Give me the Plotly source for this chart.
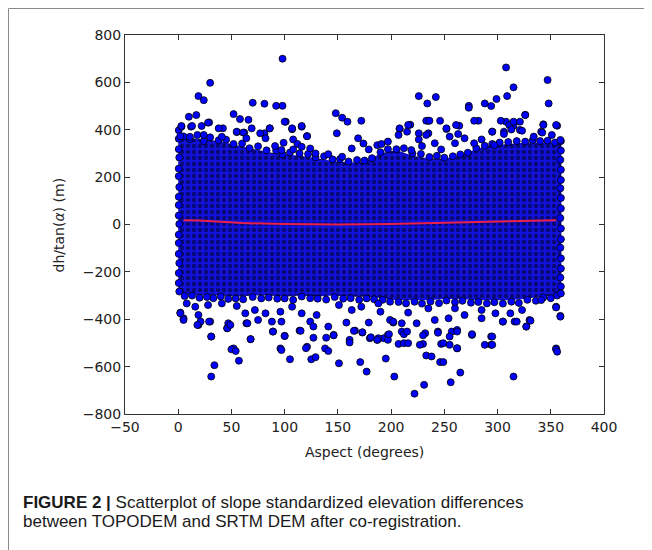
import plotly.graph_objects as go

# ---- Dense core envelope ----
core_aspect = [0, 10, 25, 40, 55, 70, 85, 100, 115, 130, 145, 160, 175, 190, 205,
               220, 235, 250, 265, 280, 295, 310, 325, 340, 352, 360]
core_upper = [360, 365, 360, 350, 335, 320, 305, 295, 290, 280, 268, 262, 265, 300, 315,
              290, 280, 278, 290, 320, 335, 340, 345, 345, 345, 340]
core_lower = [-290, -295, -300, -300, -305, -300, -300, -305, -300, -305, -300, -305, -305, -310, -320,
              -320, -320, -315, -315, -320, -320, -320, -315, -305, -300, -295]

# ---- Individual points: edges of the core and outliers ----
top_aspect = [98, 30, 308, 347, 348, 315, 309, 299, 294, 288, 273, 273, 242, 234, 226,
              19, 24, 70, 81, 92, 98, 10, 17, 52, 58, 66, 29, 101, 148, 154, 159, 172, 149,
              282, 326, 321, 308, 315, 235, 246, 218, 264, 343, 356, 107, 116, 42, 3, 12,
              208, 252, 341, 306, 295, 55, 62, 86, 81, 121, 321, 226, 235,
              3, 13, 22, 28, 38, 2, 11, 24, 41, 55, 61, 69, 77, 86, 82, 64, 100, 107, 116,
              121, 108, 99, 112, 91, 97, 108, 116, 124, 129, 141, 154, 163, 169, 174, 179,
              187, 191, 208, 216, 233, 236, 252, 261, 278, 303, 311, 315, 326, 343, 355,
              207, 215, 226, 233, 241, 255, 263, 269, 260, 285, 295, 306, 313, 323, 334,
              342, 351, 359, 197, 219, 229, 247, 278, 297]
top_dh = [700, 598, 663, 610, 511, 579, 542, 530, 500, 511, 501, 493, 538, 511, 542,
          542, 525, 514, 510, 501, 501, 455, 462, 466, 445, 442, 431, 434, 470, 451, 434, 438, 385,
          438, 463, 434, 434, 417, 438, 438, 421, 417, 423, 417, 402, 413, 406, 413, 413,
          403, 403, 392, 392, 392, 390, 388, 406, 385, 373, 399, 385, 385,
          416, 416, 416, 430, 406, 373, 370, 378, 370, 392, 388, 406, 385, 406, 364, 364, 434, 406, 416,
          373, 359, 345, 340, 331, 314, 317, 328, 321, 300, 297, 286, 321, 364, 342, 317,
          335, 340, 406, 420, 438, 438, 406, 420, 438, 438, 420, 434, 462, 420, 420,
          378, 392, 359, 378, 343, 371, 382, 364, 343, 359, 392, 382, 401, 396, 371,
          388, 378, 357, 350, 314, 331, 317, 343, 335]

bot_aspect = [2, 5, 19, 19, 30, 31, 47, 46, 64, 52, 68, 75, 88, 89, 97, 100, 96, 114, 124, 127,
              121, 141, 146, 158, 161, 166, 173, 179, 180, 187, 193, 138,
              8, 16, 28, 41, 55, 63, 72, 82, 96, 107, 116, 130, 151, 163, 172, 188,
              188, 199, 202, 197, 207, 210, 210, 224, 232, 230, 241, 244, 247, 257, 262, 262,
              276, 294, 294, 285, 305, 316, 327, 330, 355, 359, 355, 254, 269, 298, 312, 323,
              341, 190, 216, 235, 260, 285,
              31, 34, 31, 50, 54, 57, 46, 49, 68, 65, 21, 18, 29, 89, 97, 100, 105, 115, 120,
              125, 129, 127, 139, 141, 146, 151, 161, 165, 171, 173, 177, 181, 187, 195, 197,
              198, 202, 203, 212, 212, 215, 216, 222, 231, 227, 230, 233, 238, 244, 246, 249,
              249, 255, 256, 255, 262, 265, 262, 276, 288, 295, 295, 305, 315, 318, 327, 331,
              355, 356, 355, 359, 2, 5]
bot_dh = [-372, -396, -382, -424, -410, -473, -417, -438, -417, -523, -484, -403, -410, -452,
          -410, -470, -523, -448, -410, -431, -516, -431, -466, -414, -487, -448, -456, -414,
          -480, -487, -480, -523,
          -333, -347, -340, -333, -344, -375, -361, -375, -368, -347, -375, -382, -340, -361,
          -347, -333,
          -480, -403, -414, -466, -504, -452, -417, -417, -459, -504, -403, -452, -504, -452,
          -445, -523, -466, -473, -508, -396, -410, -410, -431, -403, -347, -386, -523, -396,
          -382, -375, -375, -361, -319, -368, -372, -354, -354, -361,
          -642, -594, -473, -527, -534, -575, -438, -424, -484, -417, -410, -424, -410, -452,
          -530, -471, -569, -449, -522, -569, -560, -478, -478, -534, -468, -586, -498, -449,
          -581, -455, -621, -476, -487, -566, -487, -463, -410, -642, -463, -501, -452, -501,
          -714, -677, -508, -468, -553, -557, -457, -581, -581, -501, -508, -666, -473, -522,
          -625, -452, -463, -508, -508, -473, -410, -642, -410, -431, -406, -527, -537, -350,
          -389, -375, -403]

edge_aspect = [0.5, 0.5, 0.5, 1, 0.5, 0.5, 1, 0.5, 0.5, 0.5, 1, 0.5, 0.5, 0.5, 1, 0.5, 0.5, 1,
               359.5, 359.5, 359, 359.5, 359.5, 359, 359.5, 359.5, 359, 359.5, 359.5, 359, 359.5,
               359.5, 359, 359.5, 359.5]
edge_dh = [398, 362, 318, 283, 236, 204, 158, 117, 82, 38, 2, -43, -78, -124, -163, -205,
           -247, -283,
           352, 312, 273, 231, 188, 153, 112, 68, 27, -17, -62, -98, -143, -186, -224, -262,
           -291]

ring_aspect = [5, 18, 30, 45, 60, 75, 92, 105, 122, 137, 152, 168, 182, 197, 212, 228, 243,
               258, 272, 288, 302, 318, 333, 347,
               11, 24, 38, 52, 67, 83, 98, 114, 129, 145, 160, 175, 190, 205, 220, 236, 250,
               265, 280, 295, 310, 326, 340, 354,
               6, 20, 33, 47, 61, 78, 93, 108, 124, 139, 155, 170, 184, 199, 214, 229, 245,
               260, 275, 290, 305, 320, 336, 350,
               13, 27, 40, 54, 70, 85, 100, 116, 131, 147, 162, 177, 192, 207, 222, 237, 252,
               267, 282, 297, 313, 328, 343, 356]
ring_dh = [372, 378, 368, 358, 342, 330, 312, 304, 298, 288, 276, 272, 280, 318, 322,
           298, 290, 288, 303, 332, 346, 352, 356, 354,
           360, 352, 356, 340, 322, 313, 296, 300, 283, 275, 266, 270, 305, 318, 300, 285, 282,
           296, 322, 340, 348, 350, 352, 346,
           -302, -309, -311, -314, -316, -312, -313, -318, -311, -317, -313, -318, -316, -326,
           -333, -334, -332, -328, -330, -333, -334, -331, -322, -311,
           -300, -306, -304, -312, -306, -308, -312, -304, -313, -306, -311, -312, -318, -327,
           -326, -325, -321, -322, -327, -328, -326, -318, -308, -300]

# ---- Fitted trend line ----
fit_aspect = [5, 20, 40, 60, 100, 150, 200, 250, 300, 355]
fit_dh = [18, 17, 12, 6, 2, 0, 2, 8, 13, 18]

# ---- Axis ticks ----
x_ticks = [-50, 0, 50, 100, 150, 200, 250, 300, 350, 400]
y_ticks = [-800, -600, -400, -200, 0, 200, 400, 600, 800]

OFF = 8  # page body margin
W, H = 652 - OFF, 550 - OFF
px_l, px_r, px_t, px_b = 125 - OFF, 604 - OFF, 35 - OFF, 414 - OFF

fig = go.Figure()

# dense core as a textured filled band
fig.add_trace(go.Scatter(
    x=core_aspect + core_aspect[::-1],
    y=core_upper + core_lower[::-1],
    fill="toself", mode="lines", line=dict(width=0),
    fillcolor="#1010d0",
    fillpattern=dict(shape=".", fgcolor="#000010", bgcolor="#1212dc",
                     size=6, solidity=0.42),
    hoverinfo="skip", showlegend=False))

marker = dict(size=7, color="#0000ff", line=dict(color="#000000", width=0.8))
for xs, ys in [(ring_aspect, ring_dh), (edge_aspect, edge_dh),
               (top_aspect, top_dh), (bot_aspect, bot_dh)]:
    fig.add_trace(go.Scatter(x=xs, y=ys, mode="markers", marker=marker,
                             showlegend=False, hoverinfo="skip"))

fig.add_trace(go.Scatter(x=fit_aspect, y=fit_dh, mode="lines",
                         line=dict(color="#e8204a", width=2),
                         showlegend=False, hoverinfo="skip"))

axis_common = dict(showgrid=False, zeroline=False, ticks="inside", ticklen=5,
                   tickcolor="#333333", showline=True, linecolor="#333333",
                   linewidth=1, mirror="allticks", automargin=False,
                   tickfont=dict(family="DejaVu Sans", size=14, color="#222222"))

fig.update_layout(
    width=W, height=H,
    margin=dict(l=0, r=0, t=0, b=0, pad=0, autoexpand=False),
    paper_bgcolor="white", plot_bgcolor="white",
    xaxis=dict(range=[-50, 400], tickvals=x_ticks,
               domain=[px_l / W, px_r / W], **axis_common),
    yaxis=dict(range=[-800, 800], tickvals=y_ticks,
               domain=[1 - px_b / H, 1 - px_t / H], **axis_common),
    shapes=[dict(type="rect", xref="paper", yref="paper",
                 x0=0.5 / W, x1=(645 - OFF) / W, y0=-0.05, y1=1 - 0.5 / H,
                 line=dict(color="#8a8a8a", width=1))],
    annotations=[
        dict(text="Aspect (degrees)", xref="paper", yref="paper",
             x=(px_l + px_r) / 2 / W, y=1 - (452 - OFF) / H, xanchor="center", yanchor="middle",
             showarrow=False, font=dict(family="DejaVu Sans", size=14, color="#222222")),
        dict(text="dh/tan(<i>α</i>) (m)", xref="paper", yref="paper",
             x=(58 - OFF) / W, y=1 - (224.5 - OFF) / H, xanchor="center", yanchor="middle",
             textangle=-90, showarrow=False,
             font=dict(family="DejaVu Sans", size=14, color="#222222")),
        dict(text="<b>FIGURE 2 |</b> Scatterplot of slope standardized elevation differences",
             xref="paper", yref="paper", x=(21 - OFF) / W, y=1 - (502 - OFF) / H,
             xanchor="left", yanchor="middle", showarrow=False,
             font=dict(family="Liberation Sans", size=17, color="#1a1a1a")),
        dict(text="between TOPODEM and SRTM DEM after co-registration.",
             xref="paper", yref="paper", x=(21 - OFF) / W, y=1 - (521 - OFF) / H,
             xanchor="left", yanchor="middle", showarrow=False,
             font=dict(family="Liberation Sans", size=17, color="#1a1a1a")),
    ],
)

fig.write_html("out.html")
